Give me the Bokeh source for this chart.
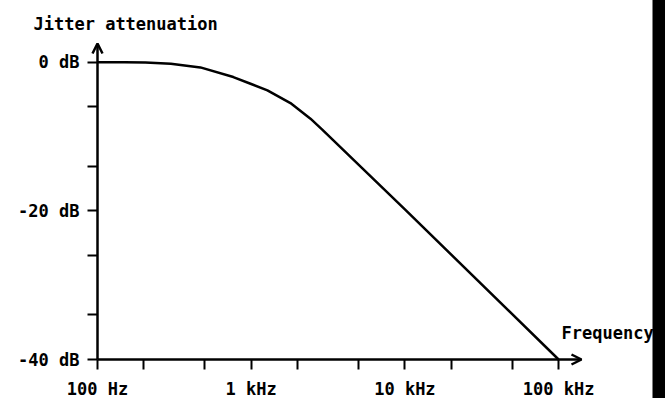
from bokeh.plotting import figure
from bokeh.models import Range1d, FixedTicker, Label, Arrow, OpenHead
from bokeh.embed import file_html
from bokeh.resources import INLINE

# ---- data ----
freq_hz = [100, 150, 205, 300, 467, 765, 990, 1275, 1800, 2430, 2910, 10000, 100000]
atten_db = [0, 0, -0.05, -0.2, -0.7, -2.0, -2.9, -3.8, -5.5, -7.6, -9.1, -19.8, -40]

x_ticks = [100, 200, 500, 1000, 2000, 5000, 10000, 20000, 50000, 100000]
x_tick_labels = {100: "100 Hz", 1000: "1 kHz", 10000: "10 kHz", 100000: "100 kHz"}
y_ticks = [0, -6.02, -13.98, -20, -26.02, -33.98, -40]
y_tick_labels = {0: "0 dB", -20: "-20 dB", -40: "-40 dB"}

title_text = "Jitter attenuation"
x_title = "Frequency"

# ---- geometry (pixels of the 665x398 page) ----
W, H = 665, 398
x0_px, y0_px = 97, 359          # where 100 Hz / -40 dB sit
px_per_dec = 153.7
px_per_db = 297.3 / 40.0

def xd(px):
    return 10 ** (2 + (px - x0_px) / px_per_dec)

def yd(py):
    return -40 + (y0_px - py) / px_per_db

FONT = "DejaVu Sans Mono"
FS = "17px"

p = figure(width=W, height=H, x_axis_type="log",
           x_range=Range1d(xd(0), xd(W)), y_range=Range1d(yd(H), yd(0)),
           output_backend="svg", toolbar_location=None, min_border=0)
p.grid.visible = False
p.outline_line_color = None

for ax in (p.xaxis[0], p.yaxis[0]):
    ax.axis_line_color = None
    ax.major_tick_line_color = "black"
    ax.major_tick_line_width = 2
    ax.major_tick_in = 0
    ax.major_tick_out = 10
    ax.minor_tick_line_color = None
    ax.major_label_text_font = FONT
    ax.major_label_text_font_style = "bold"
    ax.major_label_text_font_size = FS
    ax.major_label_text_color = "black"

p.xaxis[0].fixed_location = -40
p.xaxis[0].ticker = FixedTicker(ticks=x_ticks)
p.xaxis[0].major_label_overrides = {t: x_tick_labels.get(t, "") for t in x_ticks}
p.xaxis[0].major_label_standoff = 9
p.yaxis[0].fixed_location = 100
p.yaxis[0].ticker = FixedTicker(ticks=y_ticks)
p.yaxis[0].major_label_overrides = {t: y_tick_labels.get(t, "") for t in y_ticks}
p.yaxis[0].major_label_standoff = 8

# axis lines with arrow heads
x_tip = xd(581)
y_tip = yd(43)
p.add_layout(Arrow(end=OpenHead(size=10, line_width=2.5, line_color="black"),
                   x_start=100, y_start=-40, x_end=x_tip, y_end=-40,
                   line_width=2.5, line_color="black"))
p.add_layout(Arrow(end=OpenHead(size=10, line_width=2.5, line_color="black"),
                   x_start=100, y_start=-40, x_end=100, y_end=y_tip,
                   line_width=2.5, line_color="black"))

# curve
p.line(freq_hz, atten_db, line_color="black", line_width=2.5)

# texts
p.add_layout(Label(x=xd(33), y=yd(23), text=title_text, text_font=FONT,
                   text_font_style="bold", text_font_size=FS,
                   text_color="black", text_baseline="alphabetic"))
p.add_layout(Label(x=xd(561), y=yd(332), text=x_title, text_font=FONT,
                   text_font_style="bold", text_font_size=FS,
                   text_color="black", text_baseline="alphabetic"))

# black scan edge at the right of the page
edge = p.quad(left=[xd(652)], right=[xd(W + 20)], bottom=[yd(H + 20)], top=[yd(-20)],
              fill_color="black", line_color=None)
edge.level = "overlay"

open("out.html", "w").write(file_html(p, INLINE))
